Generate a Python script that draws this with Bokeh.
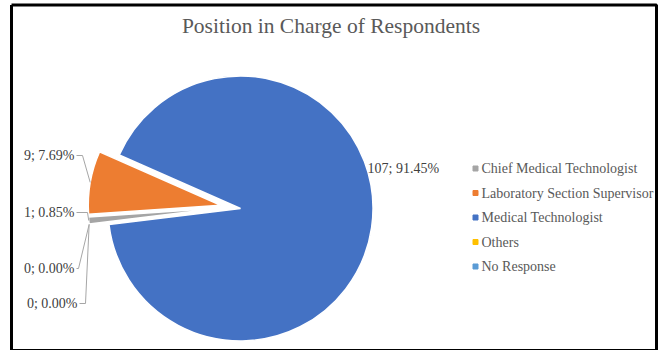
import math
from bokeh.plotting import figure
from bokeh.models import Range1d
from bokeh.core.properties import value
from bokeh.embed import file_html
from bokeh.resources import INLINE

# ---- data ----
categories = ["Chief Medical Technologist", "Laboratory Section Supervisor",
              "Medical Technologist", "Others", "No Response"]
counts = [1, 9, 107, 0, 0]
colors = ["#A5A5A5", "#ED7D31", "#4472C4", "#FFC000", "#5B9BD5"]
title_text = "Position in Charge of Respondents"

# ---- style / layout ----
W, H = 658, 350
SERIF = "Liberation Serif"
TXT = "#404040"
GRAY = "#595959"
first_angle = 187.0        # degrees, math convention, slices go clockwise
cx, cy = 230.1, 352 - 206.5  # pie centre (page px, y up)
R = 132.5
explode = 10.0

p = figure(width=W, height=H, output_backend="svg", toolbar_location=None,
           x_range=Range1d(0, W), y_range=Range1d(352 - H, 352),
           min_border=0)
p.axis.visible = False
p.grid.visible = False
p.outline_line_color = None
p.background_fill_color = "white"
p.border_fill_color = "white"

# chart frame
p.line(x=[11, 656, 656, 11, 11], y=[352 - 4.5, 352 - 4.5, 352 - 350, 352 - 350, 352 - 4.5],
       line_color="black", line_width=3)

total = sum(counts)
cum = 0.0
slices = []
for cat, v, col in zip(categories, counts, colors):
    a0 = first_angle - cum / total * 360.0
    a1 = a0 - v / total * 360.0
    mid = math.radians((a0 + a1) / 2)
    ox = cx + explode * math.cos(mid)
    oy = cy + explode * math.sin(mid)
    slices.append((cat, v, col, a0, a1, mid, ox, oy))
    cum += v

for cat, v, col, a0, a1, mid, ox, oy in slices:
    if v <= 0:
        continue
    p.wedge(x=ox, y=oy, radius=R, radius_units="screen",
            start_angle=math.radians(a0), end_angle=math.radians(a1),
            direction="clock", fill_color=col, line_color="white", line_width=1.5)

# title
p.text(x=[330.5], y=[352 - 25], text=[title_text], text_font=value(SERIF),
       text_font_size="21.5px", text_color=GRAY, text_align="center",
       text_baseline="middle")

# data labels
def lab(v):
    return f"{v}; {v / total * 100:.2f}%"

# left-side labels with leader lines: (slice index, label right x, label y_screen, elbow x)
left_labels = [(1, 74, 155, 82), (0, 74, 212, 87), (3, 74, 268, 78), (4, 77, 303, 85)]
for idx, xr, ys, xe in left_labels:
    cat, v, col, a0, a1, mid, ox, oy = slices[idx]
    yd = 352 - ys
    p.text(x=[xr], y=[yd], text=[lab(v)], text_font=value(SERIF),
           text_font_size="14px", text_color=TXT, text_align="right",
           text_baseline="middle")
    ex = ox + R * math.cos(mid)
    ey = oy + R * math.sin(mid)
    p.line(x=[xr + 2, xe, ex], y=[yd, yd, ey], line_color="#A6A6A6", line_width=1)

# blue label
cat, v, col, a0, a1, mid, ox, oy = slices[2]
p.text(x=[367], y=[352 - 168], text=[lab(v)], text_font=value(SERIF),
       text_font_size="14px", text_color=TXT, text_align="left",
       text_baseline="middle")

# legend
lx, ly0, lstep = 475, 168, 24.5
for i, (cat, col) in enumerate(zip(categories, colors)):
    yd = 352 - (ly0 + i * lstep)
    p.scatter(x=[lx], y=[yd], marker="square", size=5, fill_color=col, line_color=col)
    p.text(x=[lx + 6], y=[yd], text=[cat], text_font=value(SERIF),
           text_font_size="14px", text_color=GRAY, text_align="left",
           text_baseline="middle")

open("out.html", "w").write(file_html(p, INLINE))
